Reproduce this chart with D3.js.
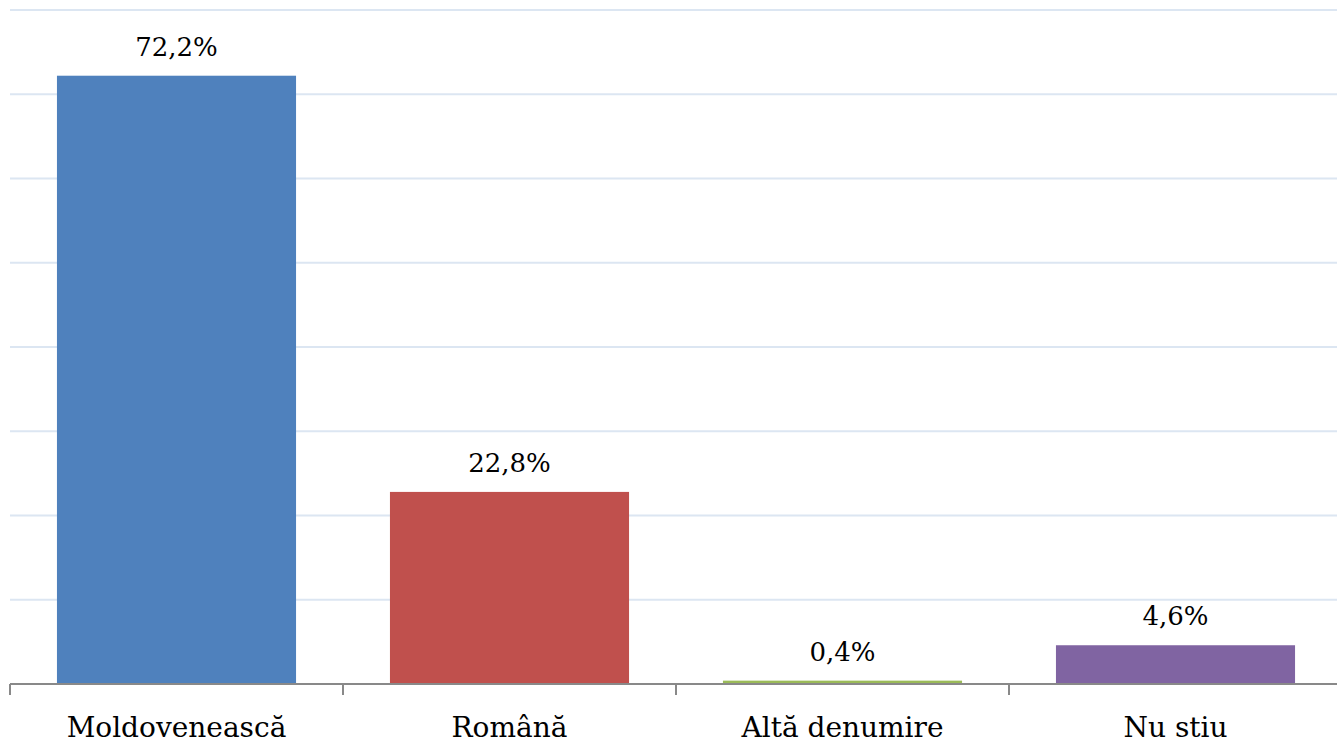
<!DOCTYPE html>
<html>
<head>
<meta charset="utf-8">
<script src="https://cdn.jsdelivr.net/npm/d3@7"></script>
<style>
  body { margin: 0; background: #fff; }
  svg { display: block; }
</style>
</head>
<body>
<svg id="chart" width="1337" height="743"></svg>
<script>
const categories = ["Moldovenească", "Română", "Altă denumire", "Nu stiu"];
const values = [72.2, 22.8, 0.4, 4.6];
const valueLabels = ["72,2%", "22,8%", "0,4%", "4,6%"];
const colors = ["#4F81BD", "#C0504D", "#9BBB59", "#8064A2"];
const gridTicks = [0, 10, 20, 30, 40, 50, 60, 70, 80];

const svg = d3.select('#chart');

const x = d3.scaleBand()
  .domain(categories)
  .range([10, 1342])
  .paddingInner(0.282)
  .paddingOuter(0.141);

const y = d3.scaleLinear()
  .domain([0, 80])
  .range([684, 10]);

// gridlines
svg.append('g')
  .selectAll('line')
  .data(gridTicks.slice(1))
  .enter()
  .append('line')
  .attr('x1', 10)
  .attr('x2', 1342)
  .attr('y1', (d) => y(d))
  .attr('y2', (d) => y(d))
  .attr('stroke', '#dce6f2')
  .attr('stroke-width', 2);

// bars
svg.append('g')
  .selectAll('rect')
  .data(values)
  .enter()
  .append('rect')
  .attr('x', (d, i) => x(categories[i]))
  .attr('width', x.bandwidth())
  .attr('y', (d) => y(d))
  .attr('height', (d) => y(0) - y(d))
  .attr('fill', (d, i) => colors[i]);

// value labels
svg.append('g')
  .selectAll('text')
  .data(values)
  .enter()
  .append('text')
  .attr('x', (d, i) => x(categories[i]) + x.bandwidth() / 2)
  .attr('y', (d) => y(d) - 20)
  .attr('text-anchor', 'middle')
  .attr('font-family', '"DejaVu Serif", serif')
  .attr('font-size', 26)
  .attr('fill', '#000')
  .text((d, i) => valueLabels[i]);

// x axis with ticks between categories
const xBoundary = d3.scaleLinear().domain([0, categories.length]).range([10, 1342]);
const axis = svg.append('g').attr('transform', 'translate(0,' + y(0) + ')');
axis.append('line')
  .attr('x1', 10).attr('x2', 1342)
  .attr('stroke', '#898989').attr('stroke-width', 2);
axis.selectAll('.tick')
  .data(d3.range(categories.length + 1))
  .enter()
  .append('line')
  .attr('class', 'tick')
  .attr('x1', (d) => xBoundary(d)).attr('x2', (d) => xBoundary(d))
  .attr('y1', 0).attr('y2', 11)
  .attr('stroke', '#898989').attr('stroke-width', 2);
axis.selectAll('text')
  .data(categories)
  .enter()
  .append('text')
  .attr('x', (d) => x(d) + x.bandwidth() / 2)
  .attr('y', 53)
  .attr('text-anchor', 'middle')
  .attr('font-family', '"DejaVu Serif", serif')
  .attr('font-size', 28)
  .attr('fill', '#000')
  .text((d) => d);
</script>
</body>
</html>
